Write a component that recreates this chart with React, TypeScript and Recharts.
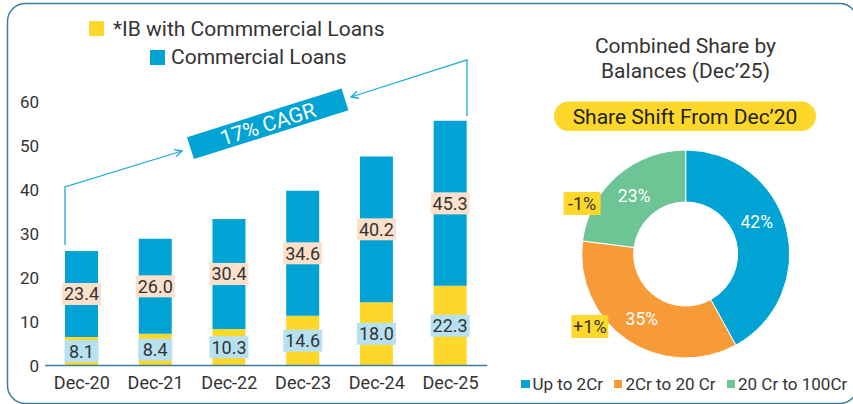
import {
  BarChart,
  Bar,
  XAxis,
  YAxis,
  LabelList,
  Legend,
  PieChart,
  Pie,
  Cell,
} from "recharts";

const years = ["Dec-20", "Dec-21", "Dec-22", "Dec-23", "Dec-24", "Dec-25"];
const ibHeights = [6.5, 7.2, 8.3, 11.3, 14.4, 18.1];
const commercialHeights = [19.5, 21.6, 25.0, 28.4, 33.1, 37.5];
const ibLabels = [8.1, 8.4, 10.3, 14.6, 18.0, 22.3];
const commercialLabels = [23.4, 26.0, 30.4, 34.6, 40.2, 45.3];
const yTicks = [0, 10, 20, 30, 40, 50, 60];

// right panel: share by balance bucket
const segments = ["Up to 2Cr", "2Cr to 20 Cr", "20 Cr to 100Cr"];
const shares = [42, 35, 23];
const shifts = ["", "+1%", "-1%"];

const BLUE = "#00A3D3";
const YELLOW = "#FDD82B";
const COLORS = [BLUE, "#F79A38", "#6DC494"];
const TEXT = "#333";

const barData = years.map((year, i) => ({
  year,
  ib: ibHeights[i],
  commercial: commercialHeights[i],
  ibLabel: ibLabels[i],
  commercialLabel: commercialLabels[i],
}));

const pieData = segments.map((name, i) => ({ name, value: shares[i] }));

const boxLabel = (bg: string) => (props: any) => {
  const { x, y, width, height, value } = props;
  const cx = Number(x) + Number(width) / 2;
  const cy = Number(y) + Number(height) / 2;
  const text = Number(value).toFixed(1);
  const w = Math.max(34, (text.length - 1) * 10.1 + 4.7 + 4);
  return (
    <g>
      <rect x={cx - w / 2} y={cy - 11} width={w} height={22} fill={bg} />
      <text x={cx} y={cy} dy="0.36em" textAnchor="middle" fontSize={18} fill={TEXT}>
        {text}
      </text>
    </g>
  );
};

const RADIAN = Math.PI / 180;
const renderShare = (props: any) => {
  const { cx, cy, midAngle, innerRadius, outerRadius, index, value } = props;
  const r = (innerRadius + outerRadius) / 2;
  // the first slice's label sits a little higher in the source
  const angle = index === 0 ? midAngle + 10 : midAngle;
  const x = cx + r * Math.cos(-angle * RADIAN);
  const y = cy + r * Math.sin(-angle * RADIAN);
  const shift = shifts[index];
  return (
    <g>
      <text x={x} y={y} dy="0.36em" textAnchor="middle" fontSize={17.5} fill="#fff">
        {value}%
      </text>
      {shift && (
        <g>
          <rect x={x - 52 - 18.5} y={y + 8 - 11.5} width={37} height={23} fill={YELLOW} />
          <text x={x - 52} y={y + 8} dy="0.36em" textAnchor="middle" fontSize={18} fill={TEXT}>
            {shift}
          </text>
        </g>
      )}
    </g>
  );
};

const BarLegend = () => (
  <div style={{ position: "relative", height: 70, fontSize: 21, color: TEXT, whiteSpace: "nowrap" }}>
    <div style={{ position: "absolute", left: 89, top: 21, width: 15, height: 15, background: YELLOW }} />
    <div style={{ position: "absolute", left: 113, top: 16, lineHeight: "26px" }}>*IB with Commmercial Loans</div>
    <div style={{ position: "absolute", left: 150, top: 50, width: 15, height: 15, background: BLUE }} />
    <div style={{ position: "absolute", left: 171, top: 44, lineHeight: "26px" }}>Commercial Loans</div>
  </div>
);

const PieLegend = () => (
  <div
    style={{
      display: "flex",
      alignItems: "center",
      paddingLeft: 21,
      fontSize: 17,
      color: TEXT,
      lineHeight: "20px",
      whiteSpace: "nowrap",
      width: 400,
    }}
  >
    {segments.map((s, i) => (
      <div key={s} style={{ display: "flex", alignItems: "center", marginRight: 11, flexShrink: 0 }}>
        <div style={{ width: 8.5, height: 8.5, background: COLORS[i], marginRight: 3 }} />
        <span>{s}</span>
      </div>
    ))}
  </div>
);

const Overlay = () => (
  <svg width={853} height={404} style={{ position: "absolute", left: 0, top: 0 }}>
    <defs>
      <marker id="arr" viewBox="0 0 10 10" refX="9" refY="5" markerWidth="7" markerHeight="7" orient="auto">
        <path d="M1,1 L9,5 L1,9" fill="none" stroke="#1BA8DA" strokeWidth={1.5} />
      </marker>
    </defs>
    <rect x={7.5} y={3.5} width={850} height={400} rx={18} fill="none" stroke="#3C7DA0" strokeWidth={1.5} />
    <polyline points="65,245 65,187 182,151" fill="none" stroke="#1BA8DA" strokeWidth={1.3} markerEnd="url(#arr)" />
    <polyline points="467,116 467,60 351,97" fill="none" stroke="#1BA8DA" strokeWidth={1.3} markerEnd="url(#arr)" />
    <g transform="translate(267.75,123.75) rotate(-17.5)">
      <rect x={-81} y={-11.5} width={162} height={23} fill="#00A3D3" />
      <text x={0} y={0} dy="0.36em" textAnchor="middle" fontSize={21} fill="#fff">
        17% CAGR
      </text>
    </g>
    <text x={685.5} y={45} dy="0.36em" textAnchor="middle" fontSize={21} fill={TEXT}>
      Combined Share by
    </text>
    <text x={685.5} y={70} dy="0.36em" textAnchor="middle" fontSize={21} fill={TEXT}>
      Balances (Dec’25)
    </text>
    <rect x={554} y={101.5} width={262} height={29.5} rx={14.75} fill={YELLOW} />
    <text x={685} y={116.5} dy="0.36em" textAnchor="middle" fontSize={21} fill="#222">
      Share Shift From Dec’20
    </text>
  </svg>
);

export default function App() {
  return (
    <div
      style={{
        position: "absolute",
        left: 0,
        top: 0,
        width: 853,
        height: 404,
        background: "#fff",
        fontFamily: "Roboto, sans-serif",
        overflow: "hidden",
      }}
    >
      <Overlay />
      <div style={{ position: "absolute", left: 0, top: 0 }}>
        <BarChart
          width={495}
          height={404}
          data={barData}
          margin={{ top: 101.5, right: 7.6, bottom: 8.5, left: 0 }}
          barCategoryGap={0}
        >
          <XAxis
            dataKey="year"
            height={30}
            tickLine={false}
            tickMargin={5}
            axisLine={{ stroke: "#3C7DA0", strokeWidth: 1.5 }}
            tick={{ fontSize: 18, fill: TEXT }}
            interval={0}
          />
          <YAxis
            width={45}
            domain={[0, 60]}
            ticks={yTicks}
            axisLine={false}
            tickLine={false}
            tickMargin={0}
            tick={{ fontSize: 17, fill: TEXT }}
          />
          <Legend
            layout="horizontal"
            verticalAlign="middle"
            align="center"
            wrapperStyle={{ top: 0, left: 0, width: 495 }}
            content={() => <BarLegend />}
          />
          <Bar dataKey="ib" name="*IB with Commmercial Loans" stackId="a" fill={YELLOW} barSize={33} isAnimationActive={false}>
            <LabelList dataKey="ibLabel" content={boxLabel("#B7E1F1")} />
          </Bar>
          <Bar dataKey="commercial" name="Commercial Loans" stackId="a" fill={BLUE} barSize={33} isAnimationActive={false}>
            <LabelList dataKey="commercialLabel" content={boxLabel("#FDE0CC")} />
          </Bar>
        </BarChart>
      </div>
      <div style={{ position: "absolute", left: 500, top: 0 }}>
        <PieChart width={353} height={404} margin={{ top: 0, right: 0, bottom: 0, left: 0 }}>
          <Pie
            data={pieData}
            dataKey="value"
            nameKey="name"
            cx={185.7}
            cy={254}
            innerRadius={52}
            outerRadius={104}
            startAngle={90}
            endAngle={-270}
            stroke="#fff"
            strokeWidth={1}
            label={renderShare}
            labelLine={false}
            isAnimationActive={false}
          >
            {pieData.map((d, i) => (
              <Cell key={d.name} fill={COLORS[i]} />
            ))}
          </Pie>
          <Legend
            layout="horizontal"
            verticalAlign="middle"
            align="center"
            wrapperStyle={{ top: 374, left: 0, width: 353 }}
            content={() => <PieLegend />}
          />
        </PieChart>
      </div>
    </div>
  );
}
